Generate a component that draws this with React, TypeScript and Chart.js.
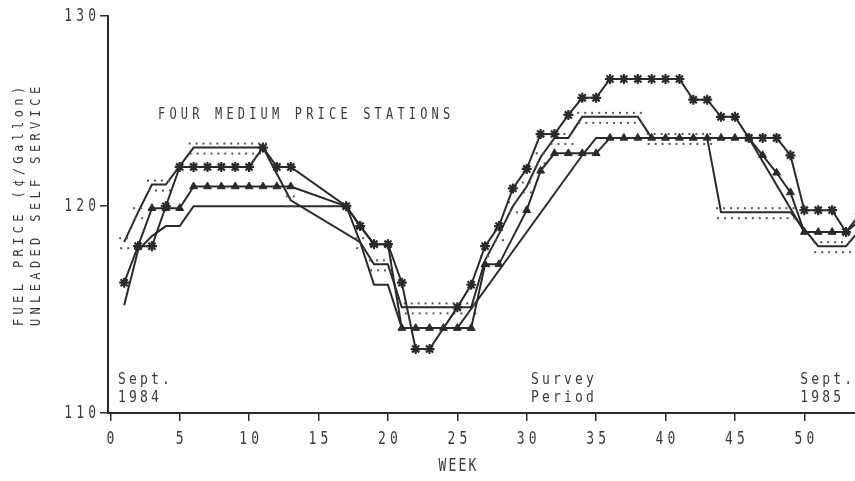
import React, { useEffect, useRef } from "react";
import { Chart, registerables } from "chart.js";

Chart.register(...registerables);

// ---- data (weeks / price in cents per gallon) ----
const starWeeks = [1,2,3,4,5,6,7,8,9,10,11,12,13,17,18,19,20,21,22,23,25,26,27,28,29,30,31,32,33,34,35,36,37,38,39,40,41,42,43,44,45,46,47,48,49,50,51,52,53,54];
const starPrices = [116.2,118,118,120,122,122,122,122,122,122,123,122,122,120,119,118.1,118.1,116.2,113,113,115,116.1,118,119,120.9,121.9,123.7,123.7,124.7,125.6,125.6,126.6,126.6,126.6,126.6,126.6,126.6,125.5,125.5,124.6,124.6,123.5,123.5,123.5,122.6,119.8,119.8,119.8,118.7,119.6];

const triangleWeeks = [2,3,4,5,6,7,8,9,10,11,12,13,17,18,19,20,21,22,23,24,25,26,27,28,30,31,32,33,34,35,36,37,38,39,40,41,42,43,44,45,46,47,48,49,50,51,52,53];
const trianglePrices = [118,119.9,119.9,119.9,121,121,121,121,121,121,121,121,120,119,118.1,118.1,114,114,114,114,114,114,117.1,117.1,119.8,121.8,122.7,122.7,122.7,122.7,123.5,123.5,123.5,123.5,123.5,123.5,123.5,123.5,123.5,123.5,123.5,122.6,121.7,120.7,118.7,118.7,118.7,118.7];

const dottedWeeks = [1,2,3,4,6,7,8,9,10,11,13,18,19,20,21,22,23,24,25,26,27,28,29,30,31,32,33,34,35,36,37,38,39,40,41,42,43,44,45,46,47,48,49,51,52,53,54];
const dottedPrices = [118.2,119.7,121.1,121.1,123,123,123,123,123,123,120.3,118.2,117.1,117.1,115,115,115,115,115,115,117.3,118.6,120,121,122.5,123.5,123.5,124.6,124.6,124.6,124.6,124.6,123.5,123.5,123.5,123.5,123.5,119.7,119.7,119.7,119.7,119.7,119.7,118,118,118,118.8];

const plainWeeks = [1,2,3,4,5,6,17,18,19,20,21,25,34,35,46,50,53,54];
const plainPrices = [115.1,117.8,118.5,119,119,120,120,118.2,116.1,116.1,114,114,122.6,123.5,123.5,118.7,118.7,119.3];

const xTickWeeks = [0,5,10,15,20,25,30,35,40,45,50];
const yTickPrices = [110,120,130];

const chartTitle = "FOUR MEDIUM PRICE STATIONS";
const yTitleLines = ["FUEL PRICE (\u00a2/Gallon)", "UNLEADED SELF SERVICE"];
const xTitle = "WEEK";
const periodNotes = [
  { week: 0.55, lines: ["Sept.", "1984"] },
  { week: 30.3, lines: ["Survey", "Period"] },
  { week: 49.7, lines: ["Sept.", "1985"] },
];

const INK = "#2a2a2a";
const TEXT = "#3a3a3a";
const FONT = '"DejaVu Sans Mono", monospace';

function zip(ws: number[], ps: number[]) {
  return ws.map((w, i) => ({ x: w, y: ps[i] }));
}

function drawSpaced(
  ctx: CanvasRenderingContext2D,
  text: string,
  x: number,
  y: number,
  pitch: number,
  align: "left" | "center" | "right",
  scaleY: number
) {
  const cw = ctx.measureText("M").width;
  const total = (text.length - 1) * pitch + cw;
  const x0 = align === "left" ? x : align === "center" ? x - total / 2 : x - total;
  ctx.save();
  ctx.translate(0, y);
  ctx.scale(1, scaleY);
  ctx.textAlign = "left";
  ctx.textBaseline = "middle";
  for (let i = 0; i < text.length; i++) {
    ctx.fillText(text[i], x0 + i * pitch, 0);
  }
  ctx.restore();
}

export default function App() {
  const ref = useRef<HTMLCanvasElement | null>(null);

  useEffect(() => {
    document.body.style.margin = "0";
    const canvas = ref.current;
    if (!canvas) return;

    // dotted marker: small dots above and below the line
    const dot = document.createElement("canvas");
    dot.width = 16;
    dot.height = 18;
    const dctx = dot.getContext("2d")!;
    dctx.fillStyle = "#555";
    [[3, 4], [10, 4], [4, 14], [11, 14]].forEach(([a, b]) => dctx.fillRect(a, b, 2, 2));

    const textPlugin = {
      id: "texts",
      afterDraw(chart: any) {
        const ctx: CanvasRenderingContext2D = chart.ctx;
        const xs = chart.scales.x;
        const ys = chart.scales.y;
        const area = chart.chartArea;
        ctx.save();
        ctx.fillStyle = TEXT;

        // y tick labels
        ctx.font = `13px ${FONT}`;
        yTickPrices.forEach((v) => {
          drawSpaced(ctx, String(v), 96, ys.getPixelForValue(v), 12, "right", 1.35);
        });
        // x tick labels
        xTickWeeks.forEach((w) => {
          drawSpaced(ctx, String(w), xs.getPixelForValue(w), area.bottom + 26, 12, "center", 1.35);
        });
        // x title
        drawSpaced(ctx, xTitle, xs.getPixelForValue(25), area.bottom + 54, 10, "center", 1.3);

        // chart title
        ctx.font = `12px ${FONT}`;
        drawSpaced(ctx, chartTitle, 158, 115, 11.4, "left", 1.3);

        // period notes
        ctx.font = `13px ${FONT}`;
        periodNotes.forEach((n) => {
          const x = xs.getPixelForValue(n.week);
          drawSpaced(ctx, n.lines[0], x, area.bottom - 33, 11, "left", 1.25);
          drawSpaced(ctx, n.lines[1], x, area.bottom - 15, 11, "left", 1.25);
        });

        // y title (rotated)
        ctx.font = `12px ${FONT}`;
        const cy = (area.top + area.bottom) / 2 - 8;
        [19, 36].forEach((cx, i) => {
          ctx.save();
          ctx.translate(cx, cy);
          ctx.rotate(-Math.PI / 2);
          drawSpaced(ctx, yTitleLines[i], 0, 0, 11.6, "center", 1.2);
          ctx.restore();
        });
        ctx.restore();
      },
    };

    const chart = new Chart(canvas, {
      type: "line",
      data: {
        datasets: [
          {
            label: "Station A",
            data: zip(starWeeks, starPrices),
            borderColor: INK,
            borderWidth: 2,
            pointStyle: "star",
            pointRadius: 5,
            pointBorderWidth: 2.2,
            pointBorderColor: INK,
            pointBackgroundColor: INK,
          },
          {
            label: "Station B",
            data: zip(triangleWeeks, trianglePrices),
            borderColor: INK,
            borderWidth: 2,
            pointStyle: "triangle",
            pointRadius: 4.5,
            pointBorderWidth: 1,
            pointBorderColor: INK,
            pointBackgroundColor: INK,
          },
          {
            label: "Station C",
            data: zip(dottedWeeks, dottedPrices),
            borderColor: INK,
            borderWidth: 2,
            pointStyle: dot as any,
            pointRadius: 8,
          },
          {
            label: "Station D",
            data: zip(plainWeeks, plainPrices),
            borderColor: INK,
            borderWidth: 2,
            pointRadius: 0,
          },
        ],
      },
      options: {
        responsive: false,
        animation: false,
        devicePixelRatio: 1,
        events: [],
        layout: { autoPadding: false, padding: { top: 16, right: 0, left: 0, bottom: 0 } },
        elements: { line: { tension: 0 } },
        plugins: { legend: { display: false }, tooltip: { enabled: false } },
        scales: {
          x: {
            type: "linear",
            min: -0.166,
            max: 53.65,
            afterFit: (s: any) => {
              s.height = 68;
            },
            afterBuildTicks: (s: any) => {
              s.ticks = xTickWeeks.map((v) => ({ value: v }));
            },
            ticks: { display: false },
            grid: { drawOnChartArea: false, drawTicks: true, tickLength: 8, color: INK, lineWidth: 1.5 },
            border: { display: true, color: INK, width: 2 },
          },
          y: {
            type: "logarithmic",
            min: 110,
            max: 130,
            afterFit: (s: any) => {
              s.width = 108;
            },
            afterBuildTicks: (s: any) => {
              s.ticks = yTickPrices.map((v) => ({ value: v }));
            },
            ticks: { display: false },
            grid: { drawOnChartArea: false, drawTicks: true, tickLength: 8, color: INK, lineWidth: 1.5 },
            border: { display: true, color: INK, width: 2 },
          },
        },
      },
      plugins: [textPlugin],
    } as any);

    return () => chart.destroy();
  }, []);

  return (
    <div style={{ position: "absolute", left: 0, top: 0, width: 855, height: 481, background: "#fff" }}>
      <canvas ref={ref} width={855} height={481} style={{ display: "block" }} />
    </div>
  );
}
